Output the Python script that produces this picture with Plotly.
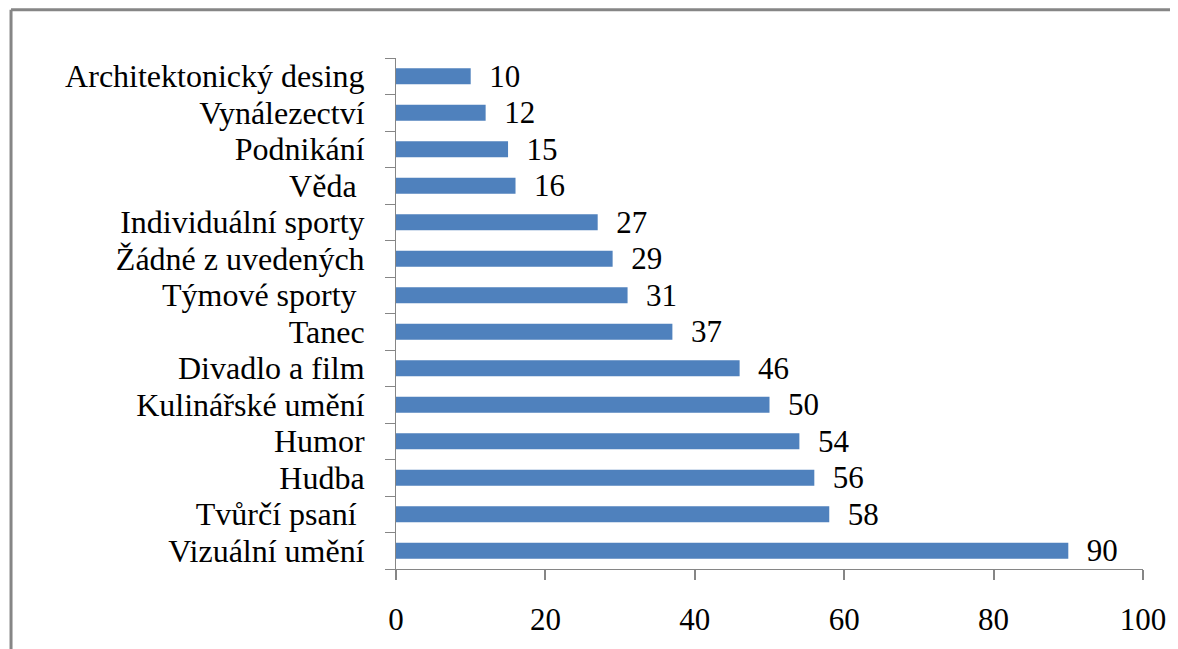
import plotly.graph_objects as go

categories = ["Vizuální umění", "Tvůrčí psaní ", "Hudba", "Humor", "Kulinářské umění",
              "Divadlo a film", "Tanec", "Týmové sporty ", "Žádné z uvedených",
              "Individuální sporty", "Věda ", "Podnikání", "Vynálezectví", "Architektonický desing"]
values = [90, 58, 56, 54, 50, 46, 37, 31, 29, 27, 16, 15, 12, 10]
x_ticks = [0, 20, 40, 60, 80, 100]

FONT = "Liberation Serif, Times New Roman, serif"
OFF = 8  # page body margin
W, H = 1178 - OFF, 649 - OFF
L, R, T, B = 396 - OFF, 33, 58 - OFF, 72
pw = W - L - R
ph = H - T - B
FS = 32
frame_top_px = 9  # frame top in page px

fig = go.Figure(go.Bar(
    y=categories, x=values, orientation="h",
    marker=dict(color="#4F81BD", line=dict(width=0)),
    text=["  " + str(v) for v in values], textposition="outside",
    constraintext="none",
    textfont=dict(family=FONT, size=31, color="black"),
    cliponaxis=False,
))

gray = "#868686"
ytop = (H + OFF - B - frame_top_px) / ph
xleft = (10 - 396) / pw
fig.update_layout(
    width=W, height=H,
    margin=dict(l=L, r=R, t=T, b=B),
    paper_bgcolor="white", plot_bgcolor="white",
    bargap=0.56, showlegend=False,
    font=dict(family=FONT, size=FS, color="black"),
    xaxis=dict(range=[0, 100], tickvals=x_ticks, showgrid=False, zeroline=False,
               showline=True, linecolor=gray, linewidth=1,
               ticks="outside", ticklen=10, tickcolor=gray, tickwidth=2,
               ticklabelstandoff=13, tickfont=dict(family=FONT, size=31)),
    yaxis=dict(categoryorder="array", categoryarray=categories,
               tickmode="linear", tick0=0, dtick=1,
               showgrid=False, zeroline=False, showline=True, linecolor=gray, linewidth=1,
               ticks="outside", ticklen=10, tickcolor=gray, tickwidth=1, tickson="boundaries",
               ticklabelstandoff=24, tickfont=dict(family=FONT, size=FS)),
    shapes=[
        dict(type="line", xref="paper", yref="paper",
             x0=xleft, x1=xleft, y0=ytop, y1=-0.3,
             line=dict(color=gray, width=3)),
        dict(type="line", xref="paper", yref="paper",
             x0=xleft, x1=1.2, y0=ytop, y1=ytop,
             line=dict(color=gray, width=3)),
    ],
)

fig.write_html("out.html")
